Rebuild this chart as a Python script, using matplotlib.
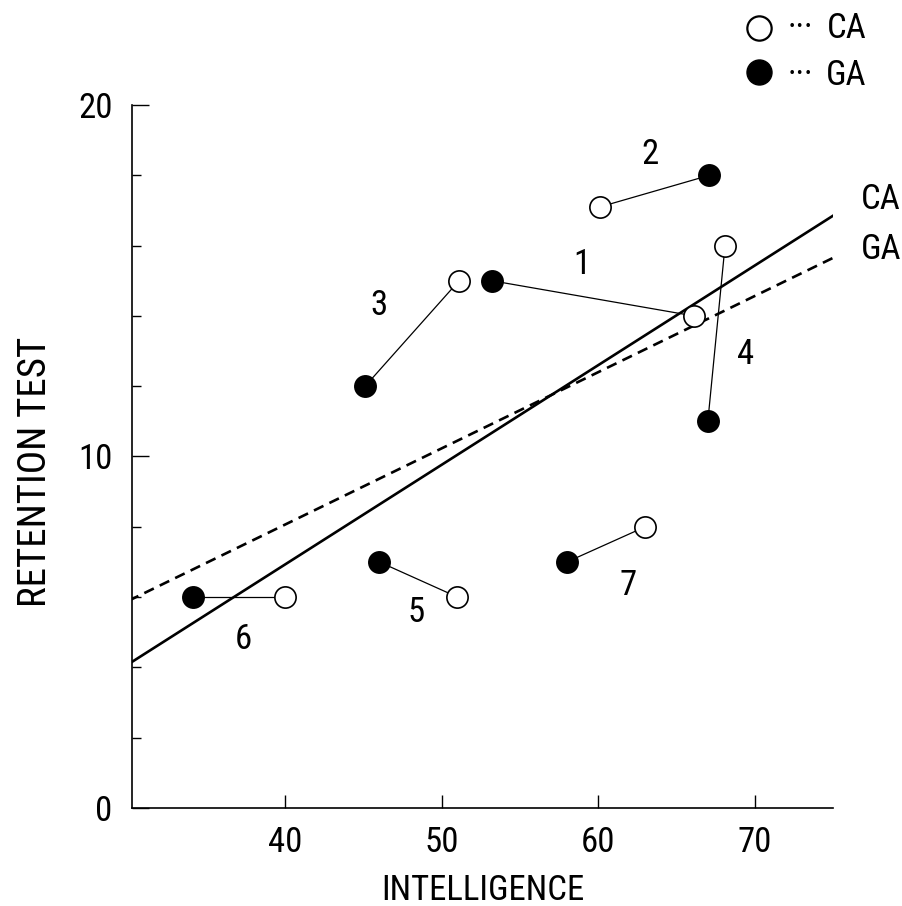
import matplotlib.pyplot as plt
from matplotlib import font_manager
from matplotlib.ticker import MultipleLocator

# narrow sans like the scan; take the first one that is installed
names = {f.name for f in font_manager.fontManager.ttflist}
wanted = ["Liberation Sans Narrow", "Arial Narrow", "Nimbus Sans Narrow",
          "Roboto Condensed", "Archivo Narrow", "PT Sans Narrow",
          "Pragati Narrow", "Liberation Sans"]
FONT = next(n for n in wanted if n in names or n == "Liberation Sans")
plt.rcParams["font.family"] = [FONT, "DejaVu Sans"]
FS = 25

# pairs: (GA x, GA y) and (CA x, CA y)
pair_ids = ["1", "2", "3", "4", "5", "6", "7"]
ga_x = [53.2, 67.1, 45.1, 67.0, 46.0, 34.1, 58.0]
ga_y = [15.0, 18.0, 12.0, 11.0, 7.0, 6.0, 7.0]
ca_x = [66.1, 60.1, 51.1, 68.1, 51.0, 40.0, 63.0]
ca_y = [14.0, 17.1, 15.0, 16.0, 6.0, 6.0, 8.0]

# label positions for pair numbers
label_x = [58.95, 63.3, 45.95, 69.4, 48.35, 37.3, 61.9]
label_y = [15.45, 18.6, 14.3, 12.9, 5.55, 4.8, 6.33]

# regression lines (endpoints at x = 30 and x = 75)
line_x = [30, 75]
ca_line = [4.1, 16.85]
ga_line = [5.9, 15.65]

fig = plt.figure(figsize=(9.03, 9.06), dpi=100)
ax = fig.add_axes([0.1462, 0.1082, 0.7763, 0.7759])

ax.plot(line_x, ca_line, "-", color="black", linewidth=1.9, zorder=2)
ax.plot(line_x, ga_line, "--", color="black", linewidth=1.9, dashes=(4, 2.5), zorder=2)

for i in range(len(pair_ids)):
    ax.plot([ga_x[i], ca_x[i]], [ga_y[i], ca_y[i]], "-", color="black", linewidth=0.9, zorder=3)
    ax.text(label_x[i], label_y[i], pair_ids[i], fontsize=FS, ha="center", va="center")

ax.plot(ca_x, ca_y, "o", markersize=15.3, markerfacecolor="white",
        markeredgecolor="black", markeredgewidth=1.2, linestyle="none", zorder=4)
ax.plot(ga_x, ga_y, "o", markersize=15.3, markerfacecolor="black",
        markeredgecolor="black", markeredgewidth=1.2, linestyle="none", zorder=4)

ax.text(76.8, 17.3, "CA", fontsize=FS, ha="left", va="center", clip_on=False)
ax.text(76.8, 15.9, "GA", fontsize=FS, ha="left", va="center", clip_on=False)

# legend at top right
ax.plot([70.3], [22.19], "o", markersize=17.5, markerfacecolor="white",
        markeredgecolor="black", markeredgewidth=1.6, clip_on=False)
ax.plot([70.25], [20.94], "o", markersize=18, markerfacecolor="black",
        markeredgecolor="black", clip_on=False)
ax.text(72.1, 22.19, "···", fontsize=FS, ha="left", va="center", clip_on=False)
ax.text(72.1, 20.85, "···", fontsize=FS, ha="left", va="center", clip_on=False)
ax.text(74.6, 22.19, "CA", fontsize=FS, ha="left", va="center", clip_on=False)
ax.text(74.55, 20.85, "GA", fontsize=FS, ha="left", va="center", clip_on=False)

ax.set_xlim(30.2, 75)
ax.set_ylim(0, 20)
ax.spines["top"].set_visible(False)
ax.spines["right"].set_visible(False)
ax.spines["left"].set_linewidth(1.2)
ax.spines["bottom"].set_linewidth(1.2)

ax.set_xticks([40, 50, 60, 70])
ax.set_yticks([0, 10, 20])
ax.yaxis.set_minor_locator(MultipleLocator(2))
ax.tick_params(axis="both", which="major", direction="in", width=1.0, labelsize=FS)
ax.tick_params(axis="x", which="major", length=9.5, pad=13)
ax.tick_params(axis="y", which="major", length=12, pad=14)
ax.tick_params(axis="y", which="minor", direction="in", length=6.5, width=1.0)

ax.set_xlabel("INTELLIGENCE", fontsize=FS, labelpad=11)
ax.set_ylabel("RETENTION TEST", fontsize=28)
ax.yaxis.set_label_coords(-0.112, 0.478)

fig.savefig("out.png", dpi=100)
